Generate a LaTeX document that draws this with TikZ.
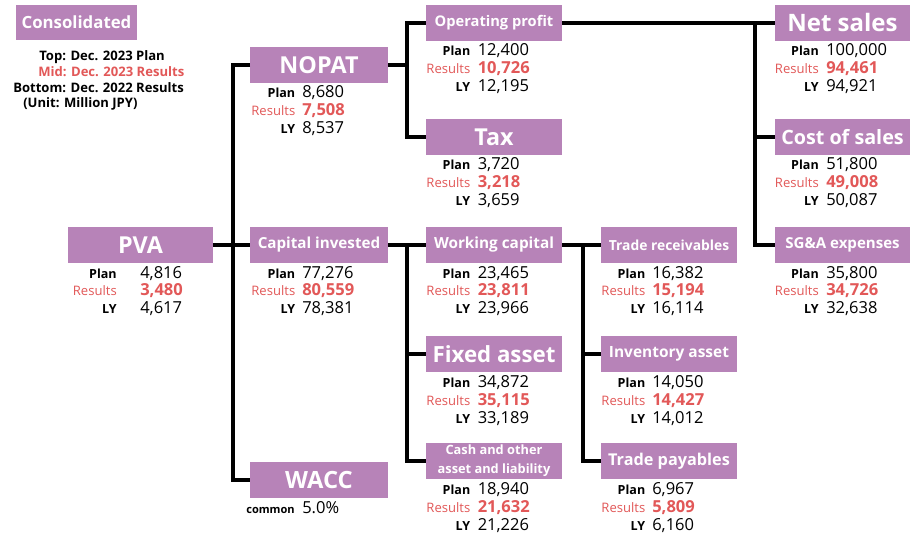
\documentclass[tikz,border=0pt]{standalone}
\usepackage{fontspec}
\setmainfont{Open Sans}
\definecolor{pvapurple}{RGB}{183,131,184}
\definecolor{resred}{RGB}{226,88,88}
\newcommand\fsz[1]{\fontsize{#1}{#1}\selectfont}

\begin{document}
\begin{tikzpicture}
[
  x=0.75pt, y=-0.75pt,
  hdr/.style={fill=pvapurple, text=white, inner sep=0pt, minimum width=102pt,
    minimum height=27pt, font=\bfseries\fsz{#1}},
  hdr/.default=17.5,
  lbl/.style={inner sep=0pt, anchor=base east, font=\bfseries\fsz{9.4}},
  num/.style={inner sep=0pt, anchor=base west, font=\fsz{12.4}},
  leg/.style={inner sep=0pt, anchor=base west, font=\bfseries\fsz{9.8}},
  res/.style={text=resred},
  link/.style={line width=2.8pt},
]
\path[use as bounding box, fill=white] (0,0) rectangle (910,538);

% legend
\node[hdr=12.6, minimum width=90.75pt, minimum height=26.25pt] (cons) at (76.5,22.5) {Consolidated};
\node[leg] (leg1) at (39,61) {Top: Dec. 2023 Plan};
\node[leg, res] (leg2) at (38,77) {Mid: Dec. 2023 Results};
\node[leg] (leg3) at (13,93) {Bottom: Dec. 2022 Results};
\node[leg] (leg4) at (23,108) {(Unit: Million JPY)};

% boxes
\node[hdr, minimum width=108.75pt] (pva) at (140.5,245) {PVA};
\node[hdr, minimum width=103pt] (nopat) at (319,65) {NOPAT};
\node[hdr=11.4, minimum width=103pt] (capinv) at (319,245) {Capital invested};
\node[hdr=17.8, minimum width=103pt] (wacc) at (319,480) {WACC};

\node[hdr=11] (opprof) at (494,23) {Operating profit};
\node[hdr] (tax) at (494,137) {Tax};
\node[hdr=11.5] (workcap) at (494,245) {Working capital};
\node[hdr=16.7] (fixed) at (494,354) {Fixed asset};
\node[hdr=9.6, align=center, font=\bfseries\fontsize{9.6}{14.5}\selectfont] (cash) at (494,461)
  {Cash and other\\asset and liability};

\node[hdr=10.4] (trrec) at (669,245) {Trade receivables};
\node[hdr=11.6] (inv) at (669,354) {Inventory asset};
\node[hdr=12.2] (trpay) at (669,461) {Trade payables};

\node[hdr=18, minimum width=101.25pt] (netsales) at (842.5,23) {Net sales};
\node[hdr=14.8, minimum width=101.25pt] (cost) at (842.5,137) {Cost of sales};
\node[hdr=11.3, minimum width=101.25pt] (sga) at (842.5,245) {SG\&A expenses};

% connectors
\coordinate (trunkA) at (233,0);
\coordinate (trunkB) at (407,0);
\coordinate (trunkC) at (583,0);
\coordinate (trunkD) at (755,0);

\draw[link] (pva) -- (capinv);
\draw[link] (nopat.west) -| (trunkA |- wacc.west) -- (wacc.west);
\draw[link] (nopat.east) -- (nopat.east -| trunkB);
\draw[link] (opprof.west) -| (trunkB |- tax.west) -- (tax.west);
\draw[link] (capinv) -- (workcap);
\draw[link] (trunkB |- workcap.west) |- (cash.west);
\draw[link] (trunkB |- fixed.west) -- (fixed.west);
\draw[link] (workcap) -- (trrec);
\draw[link] (trunkC |- trrec.west) |- (trpay.west);
\draw[link] (trunkC |- inv.west) -- (inv.west);
\draw[link] (opprof) -- (netsales);
\draw[link] (trunkD |- netsales.west) |- (sga.west);
\draw[link] (trunkD |- cost.west) -- (cost.west);

% figures under each box
\def\figs(#1,#2)#3#4#5{
  \node[lbl] (#1-pl) at ([shift={(-23.5,33)}]#1.center) {Plan};
  \node[num] (#1-pv) at ([shift={(#2,33)}]#1.center) {#3};
  \node[lbl, res, font=\fsz{9.8}] (#1-rl) at ([shift={(-23.5,51)}]#1.center) {Results};
  \node[num, res, font=\bfseries\fsz{12.4}] (#1-rv) at ([shift={(#2,51)}]#1.center) {#4};
  \node[lbl] (#1-ll) at ([shift={(-23.5,69)}]#1.center) {LY};
  \node[num] (#1-lv) at ([shift={(#2,69)}]#1.center) {#5};
}

\figs(pva,-0.5){4,816}{3,480}{4,617}
\figs(nopat,-17){8,680}{7,508}{8,537}
\figs(capinv,-17){77,276}{80,559}{78,381}
\figs(opprof,-16.5){12,400}{10,726}{12,195}
\figs(tax,-16.5){3,720}{3,218}{3,659}
\figs(workcap,-16.5){23,465}{23,811}{23,966}
\figs(fixed,-16.5){34,872}{35,115}{33,189}
\figs(cash,-16.5){18,940}{21,632}{21,226}
\figs(trrec,-17){16,382}{15,194}{16,114}
\figs(inv,-17){14,050}{14,427}{14,012}
\figs(trpay,-17){6,967}{5,809}{6,160}
\figs(netsales,-16.5){100,000}{94,461}{94,921}
\figs(cost,-16.5){51,800}{49,008}{50,087}
\figs(sga,-16.5){35,800}{34,726}{32,638}

\node[lbl, font=\bfseries\fsz{8.3}] (wacc-cl) at ([shift={(-24,33)}]wacc.center) {common};
\node[num] (wacc-cv) at ([shift={(-17,33)}]wacc.center) {5.0\%};

\end{tikzpicture}
\end{document}
